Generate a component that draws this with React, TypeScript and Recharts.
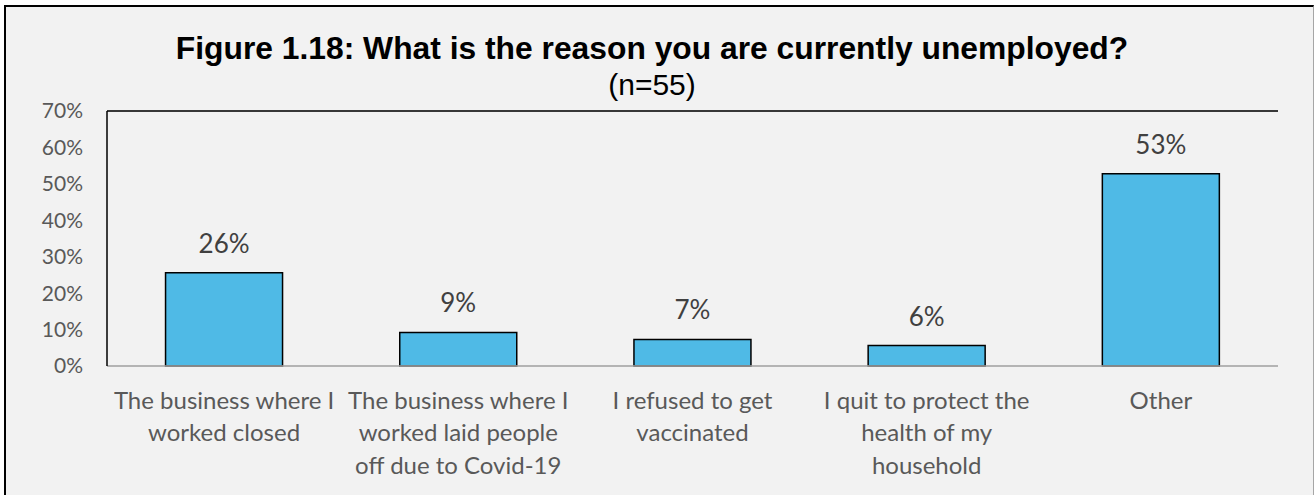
import React from 'react';
import {
  BarChart,
  Bar,
  XAxis,
  YAxis,
  CartesianGrid,
  LabelList,
  ReferenceLine,
} from 'recharts';

// Survey responses: reason for current unemployment (n=55)
const categories = [
  'The business where I worked closed',
  'The business where I worked laid people off due to Covid-19',
  'I refused to get vaccinated',
  'I quit to protect the health of my household',
  'Other',
];

// Category tick labels, broken into lines
const categoryLines = [
  ['The business where I', 'worked closed'],
  ['The business where I', 'worked laid people', 'off due to Covid-19'],
  ['I refused to get', 'vaccinated'],
  ['I quit to protect the', 'health of my', 'household'],
  ['Other'],
];

// Share of respondents, percent
const shares = [25.6, 9.2, 7.3, 5.6, 52.8];

const yTicks = [0, 10, 20, 30, 40, 50, 60, 70];

const title = 'Figure 1.18: What is the reason you are currently unemployed?';
const subtitle = '(n=55)';

const data = categories.map((category, i) => ({
  category,
  share: shares[i],
}));

const W = 1315;
const H = 495;

const CategoryTick = (props: any) => {
  const { x, y, payload, index } = props;
  const idx = payload && typeof payload.index === 'number' ? payload.index : index;
  const lines = categoryLines[idx] || [String(payload.value)];
  return (
    <text
      x={x}
      y={y}
      textAnchor="middle"
      fill="#595959"
      fontSize={24}
      fontFamily="Lato, 'Open Sans', sans-serif"
    >
      {lines.map((line, i) => (
        <tspan key={i} x={x} dy={i === 0 ? 43 : 32.3}>
          {line}
        </tspan>
      ))}
    </text>
  );
};

export default function App() {
  return (
    <div style={{ position: 'absolute', left: 0, top: 0, width: W, height: H, background: '#ffffff' }}>
      <div
        style={{
          position: 'absolute',
          left: 4,
          top: 5,
          width: 1310,
          height: 490,
          boxSizing: 'border-box',
          background: '#f2f2f2',
          borderTop: '2px solid #000',
          borderLeft: '2px solid #000',
          borderRight: '1px solid #a6a6a6',
        }}
      />
      <svg
        width={W}
        height={H}
        style={{ position: 'absolute', left: 0, top: 0, pointerEvents: 'none' }}
      >
        <text
          x={652}
          y={58.5}
          textAnchor="middle"
          fontFamily="'Liberation Sans', Arial, sans-serif"
          fontWeight="bold"
          fontSize={31.8}
          fill="#000"
        >
          {title}
        </text>
        <text
          x={652}
          y={95}
          textAnchor="middle"
          fontFamily="'Liberation Sans', Arial, sans-serif"
          fontSize={30}
          fill="#000"
        >
          {subtitle}
        </text>
      </svg>
      <div style={{ position: 'absolute', left: 0, top: 0 }}>
        <BarChart
          width={W}
          height={H}
          data={data}
          margin={{ top: 111, right: 37, bottom: 29, left: 47 }}
          barCategoryGap="25%"
        >
          <CartesianGrid vertical={false} stroke="#d9d9d9" strokeWidth={1.5} />
          <XAxis
            dataKey="category"
            interval={0}
            tickLine={false}
            tickSize={0}
            tickMargin={0}
            height={100}
            axisLine={{ stroke: '#a6a6a6', strokeWidth: 1.5 }}
            tick={<CategoryTick />}
          />
          <YAxis
            yAxisId="left"
            width={60}
            domain={[0, 70]}
            ticks={yTicks}
            interval={0}
            tickLine={false}
            tickSize={0}
            tickMargin={24}
            axisLine={{ stroke: '#000', strokeWidth: 1.5 }}
            tickFormatter={(v: number) => `${v}%`}
            tick={{ fill: '#595959', fontSize: 21, fontFamily: "Lato, 'Open Sans', sans-serif" }}
          />
          <YAxis
            yAxisId="right"
            orientation="right"
            width={0}
            domain={[0, 70]}
            ticks={yTicks}
            tick={false}
            tickLine={false}
            axisLine={{ stroke: '#000', strokeWidth: 1.5 }}
          />
          <ReferenceLine yAxisId="left" y={70} stroke="#000" strokeWidth={1.5} />
          <Bar
            yAxisId="left"
            dataKey="share"
            fill="#4fbae6"
            stroke="#000"
            strokeWidth={1.5}
            isAnimationActive={false}
          >
            <LabelList
              dataKey="share"
              position="top"
              offset={20}
              formatter={(v: any) => `${Math.round(Number(v))}%`}
              fill="#404040"
              fontSize={26}
              fontFamily="Lato, 'Open Sans', sans-serif"
            />
          </Bar>
        </BarChart>
      </div>
    </div>
  );
}
